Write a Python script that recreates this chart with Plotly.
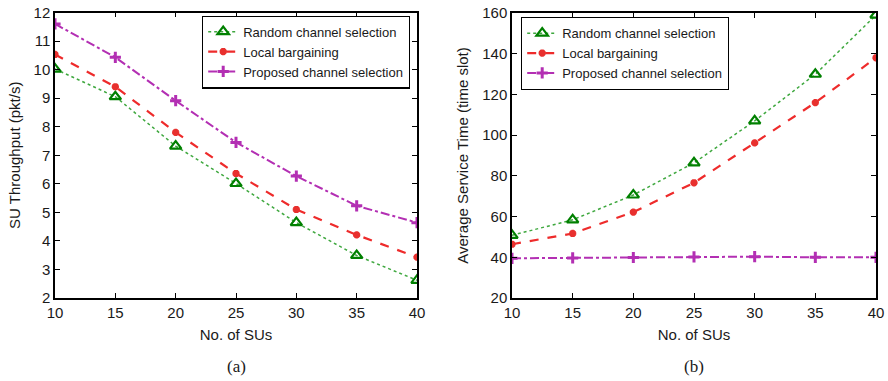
import plotly.graph_objects as go

# Number of secondary users
num_sus = [10, 15, 20, 25, 30, 35, 40]

# (a) SU throughput (pkt/s)
thr_random = [10.02, 9.05, 7.32, 6.01, 4.64, 3.49, 2.62]
thr_local = [10.53, 9.40, 7.80, 6.36, 5.10, 4.21, 3.43]
thr_proposed = [11.60, 10.43, 8.91, 7.45, 6.27, 5.23, 4.64]

# (b) Average service time (time slot)
ast_random = [50.8, 58.4, 70.6, 86.4, 107.0, 129.9, 159.0]
ast_local = [46.4, 51.7, 62.2, 76.6, 96.2, 116.0, 138.0]
ast_proposed = [39.5, 39.7, 39.9, 40.2, 40.3, 40.0, 40.0]

series_names = ["Random channel selection", "Local bargaining", "Proposed channel selection"]

W, H = 888, 381
FONT = "Liberation Sans, Arial, sans-serif"
SERIF = "Liberation Serif, Times New Roman, serif"

styles = [
    dict(line=dict(color="#3fa83f", width=1.5, dash="dot"),
         marker=dict(symbol="triangle-up-open", size=10, color="#008000",
                     line=dict(width=2.2, color="#008000"))),
    dict(line=dict(color="#ee2b2b", width=2.2, dash="dash"),
         marker=dict(symbol="asterisk-open", size=6, color="#e8302e",
                     line=dict(width=2.5, color="#e8302e"))),
    dict(line=dict(color="#b32fb3", width=2.0, dash="dashdot"),
         marker=dict(symbol="cross-thin-open", size=8, color="#b32fb3",
                     line=dict(width=3, color="#b32fb3"))),
]

fig = go.Figure()

for name, ys, st in zip(series_names, [thr_random, thr_local, thr_proposed], styles):
    fig.add_trace(go.Scatter(x=num_sus, y=ys, name=name, mode="lines+markers",
                             xaxis="x", yaxis="y", legend="legend", **st))

for name, ys, st in zip(series_names, [ast_random, ast_local, ast_proposed], styles):
    fig.add_trace(go.Scatter(x=num_sus, y=ys, name=name, mode="lines+markers",
                             xaxis="x2", yaxis="y2", legend="legend2", **st))


def px_x(p):
    return p / W


def px_y(p):
    return 1 - p / H


axis_common = dict(
    showline=True, linecolor="black", linewidth=1.5, mirror="ticks",
    ticks="inside", ticklen=5, tickwidth=1, tickcolor="black",
    showgrid=False, zeroline=False, automargin=False,
    tickfont=dict(family=FONT, size=15, color="#1a1a1a"),
    title_font=dict(family=FONT, size=15, color="#1a1a1a"),
)

legend_common = dict(
    bgcolor="white", bordercolor="black", borderwidth=1.2,
    font=dict(family=FONT, size=13, color="#1a1a1a"),
    tracegroupgap=0, itemwidth=30, yanchor="top",
)

fig.update_layout(
    template="none",
    width=W, height=H,
    margin=dict(l=0, r=0, t=0, b=0, pad=0),
    paper_bgcolor="white", plot_bgcolor="white",
    xaxis=dict(domain=[px_x(55), px_x(417)], range=[10, 40], dtick=5,
               anchor="y", title=dict(text="No. of SUs", standoff=10), **axis_common),
    yaxis=dict(domain=[px_y(298), px_y(12.5)], range=[2, 12], dtick=1,
               anchor="x", title=dict(text="SU Throughput (pkt/s)", standoff=9), **axis_common),
    xaxis2=dict(domain=[px_x(512), px_x(876)], range=[10, 40], dtick=5,
                anchor="y2", title=dict(text="No. of SUs", standoff=10), **axis_common),
    yaxis2=dict(domain=[px_y(298), px_y(13)], range=[20, 160], dtick=20,
                anchor="x2", title=dict(text="Average Service Time (time slot)", standoff=10), **axis_common),
    legend=dict(x=px_x(410), y=px_y(15.5), xanchor="right", **legend_common),
    legend2=dict(x=px_x(521), y=px_y(17), xanchor="left", **legend_common),
    annotations=[
        dict(text="(a)", x=px_x(236), y=px_y(366), xref="paper", yref="paper",
             xanchor="center", yanchor="middle", showarrow=False,
             font=dict(family=SERIF, size=17, color="#1a1a1a")),
        dict(text="(b)", x=px_x(694), y=px_y(366), xref="paper", yref="paper",
             xanchor="center", yanchor="middle", showarrow=False,
             font=dict(family=SERIF, size=17, color="#1a1a1a")),
    ],
)

fig.write_html("out.html")
